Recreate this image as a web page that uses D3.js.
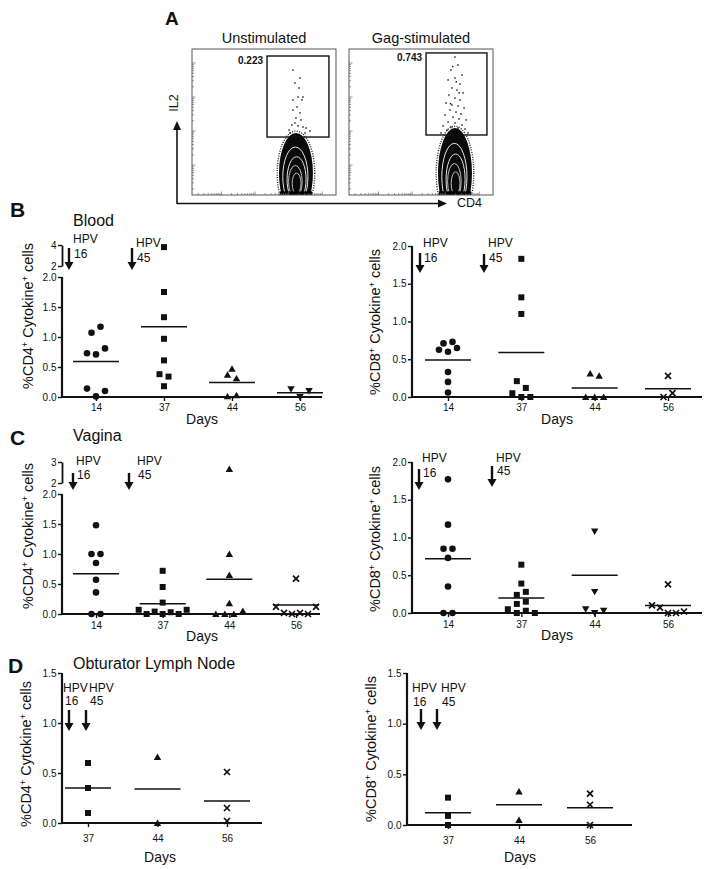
<!DOCTYPE html>
<html><head><meta charset="utf-8">
<script src="https://cdn.jsdelivr.net/npm/d3@7"></script>
<style>
body{margin:0;background:#fff}
svg{display:block}
</style>
</head><body>
<svg id="chart" width="715" height="869"></svg>
<script>
// ================= DATA =================
const days = ["14", "37", "44", "56"];
const daysLN = ["37", "44", "56"];
const yTicks2 = [0, 0.5, 1.0, 1.5, 2.0];
const yTicks15 = [0, 0.5, 1.0, 1.5];

// Panel B – Blood
const bloodCD4 = [
  [1.07, 1.17, 0.73, 0.71, 0.81, 0.14, 0.01, 0.10],
  [3.8, 1.75, 1.33, 0.97, 0.61, 0.38, 0.34, 0.18],
  [0.47, 0.37, 0.31, 0.01, 0.03],
  [0.13, 0.0, 0.10]
];
const bloodCD4Mean = [0.59, 1.17, 0.24, 0.07];
const bloodCD8 = [
  [0.71, 0.73, 0.625, 0.60, 0.65, 0.33, 0.20, 0.06],
  [1.83, 1.32, 1.10, 0.21, 0.12, 0.05, 0, 0],
  [0.31, 0.28, 0, 0, 0],
  [0.28, 0, 0.05]
];
const bloodCD8Mean = [0.49, 0.59, 0.12, 0.11];

// Panel C – Vagina
const vaginaCD4 = [
  [1.48, 1.0, 1.0, 0.85, 0.57, 0.36, 0, 0],
  [0.72, 0.45, 0.19, 0.07, 0.0, 0.04, 0.0, 0.03, 0.0, 0.07],
  [2.67, 1.0, 0.65, 0.18, 0, 0, 0, 0.05],
  [0.59, 0.12, 0.02, 0, 0.02, 0.0, 0.12]
];
const vaginaCD4Mean = [0.67, 0.17, 0.58, 0.15];
const vaginaCD8 = [
  [1.77, 1.17, 0.85, 0.85, 0.73, 0.35, 0, 0],
  [0.64, 0.39, 0.24, 0.28, 0.12, 0.15, 0.05, 0, 0.03, 0],
  [1.08, 0.28, 0.05, 0, 0.03],
  [0.38, 0.10, 0.07, 0, 0, 0.02]
];
const vaginaCD8Mean = [0.72, 0.20, 0.50, 0.10];

// Panel D – Obturator lymph node
const lnCD4 = [[0.60, 0.35, 0.10], [0.66, 0], [0.51, 0.15, 0.02]];
const lnCD4Mean = [0.35, 0.34, 0.22];
const lnCD8 = [[0.27, 0.09, 0], [0.33, 0.05], [0.31, 0.20, 0]];
const lnCD8Mean = [0.12, 0.20, 0.17];

// Panel A – flow cytometry (arbitrary 0-100 units, CD4 x IL2)
const flowTitles = ["Unstimulated", "Gag-stimulated"];
const flowPercents = ["0.223", "0.743"];
const flowGates = [[52.1, 95.1, 39.7, 95.2], [53.5, 95.8, 41.1, 97.3]]; // x1,x2,y1,y2
const flowBlobs = [[72.2, 42.5], [73.6, 45.9]]; // centre CD4, top IL2
const unstimDots = [
  [70.1, 85.6], [75.0, 80.1], [71.5, 76.7], [73.6, 67.1], [77.1, 67.1], [70.1, 65.1],
  [76.4, 65.1], [72.9, 60.3], [70.1, 58.2], [75.0, 56.2], [71.5, 49.3], [73.6, 47.3],
  [77.1, 46.6], [69.4, 47.9], [79.2, 45.9], [67.4, 44.5], [81.9, 43.8], [72.2, 52.7],
  [75.7, 51.4], [68.1, 42.5], [78.5, 42.5], [74.3, 73.3]
];
const gagDots = [
  [73.6, 94.5], [75.7, 89.0], [70.8, 85.6], [78.5, 82.2], [73.6, 80.1], [68.8, 78.8],
  [77.1, 76.0], [71.5, 73.3], [75.0, 71.9], [79.2, 69.9], [69.4, 68.5], [73.6, 66.4],
  [77.1, 65.1], [67.4, 63.0], [71.5, 61.6], [75.7, 61.0], [79.9, 59.6], [70.1, 58.2],
  [74.3, 56.8], [77.8, 55.5], [66.7, 54.8], [72.2, 53.4], [76.4, 52.1], [81.3, 51.4],
  [68.8, 50.0], [73.6, 49.3], [78.5, 47.9], [65.3, 47.3], [70.8, 46.6], [75.7, 45.9],
  [80.6, 45.2], [68.1, 44.5], [72.9, 43.8], [77.1, 43.2], [63.9, 42.5], [69.4, 41.8],
  [75.0, 41.8], [82.6, 42.5], [74.5, 77.5], [72.0, 88.0], [76.5, 70.0], [70.5, 62.5]
];
const flowDecades = [20.5, 43.8, 67.1, 90.4];

// ================= DRAWING =================
const FONT = 'Arial, "Liberation Sans", Helvetica, sans-serif';
const svg = d3.select("#chart").attr("font-family", FONT);
const INK = "#111";

// ---------- Panel A ----------
svg.append("text").attr("x", 165).attr("y", 25).attr("font-size", 19).attr("font-weight", "bold").attr("fill", INK).text("A");

const defs = svg.append("defs");
const flowSets = [unstimDots, gagDots];
[192, 349].forEach((x0, i) => {
  const fx = d3.scaleLinear().domain([0, 100]).range([x0, x0 + 144]);
  const fy = d3.scaleLinear().domain([0, 100]).range([195, 49]);
  const g = svg.append("g");
  defs.append("clipPath").attr("id", "clipf" + i)
    .append("rect").attr("x", fx(0)).attr("y", fy(100)).attr("width", fx(100) - fx(0)).attr("height", fy(0) - fy(100));

  // title
  g.append("text").attr("x", (fx(0) + fx(100)) / 2).attr("y", 43).attr("text-anchor", "middle")
    .attr("font-size", 14.5).attr("fill", INK).text(flowTitles[i]);

  // contour blob
  const [bcx, btop] = flowBlobs[i];
  const cy0 = fy(15), cx0 = fx(bcx);
  const RX = fx(11.8) - fx(0), RY = cy0 - fy(btop);
  const bg = g.append("g").attr("clip-path", `url(#clipf${i})`);
  bg.append("ellipse").attr("cx", cx0).attr("cy", cy0).attr("rx", RX + 1.8).attr("ry", RY + 1.8)
    .attr("fill", "none").attr("stroke", "#222").attr("stroke-width", 1.4).attr("stroke-dasharray", "1,1.4");
  bg.append("ellipse").attr("cx", cx0).attr("cy", cy0).attr("rx", RX).attr("ry", RY).attr("fill", "#0a0a0a");
  [0.74, 0.56, 0.4, 0.26].forEach((s, k) => {
    bg.append("ellipse").attr("cx", cx0 + (k % 2 ? 1 : -1) * 0.6).attr("cy", cy0 + (1 - s) * 14)
      .attr("rx", RX * s).attr("ry", RY * s)
      .attr("fill", "none").attr("stroke", k < 2 ? "#e6e6e6" : "#bdbdbd").attr("stroke-width", 1);
  });
  bg.append("rect").attr("x", cx0 - RX * 0.95).attr("y", fy(2.5)).attr("width", RX * 1.9).attr("height", fy(0) - fy(2.5)).attr("fill", "#000");

  // sparse events
  g.append("g").selectAll("rect").data(flowSets[i]).join("rect")
    .attr("x", d => fx(d[0]) - 0.7).attr("y", d => fy(d[1]) - 0.7).attr("width", 1.4).attr("height", 1.4).attr("fill", "#000");

  // frame
  g.append("rect").attr("x", fx(0)).attr("y", fy(100)).attr("width", fx(100) - fx(0)).attr("height", fy(0) - fy(100))
    .attr("fill", "none").attr("stroke", "#555").attr("stroke-width", 1);

  // log ticks inside frame
  const minor = [];
  flowDecades.forEach(d => { [2,3,4,5,6,7,8,9].forEach(m => { const v = d - 23.3 + Math.log10(m) * 23.3; if (v > 0) minor.push(v); }); });
  g.selectAll(".ty").data(flowDecades.concat(minor)).join("line")
    .attr("x1", fx(0)).attr("x2", (d) => fx(0) + (flowDecades.includes(d) ? 3.5 : 2))
    .attr("y1", d => fy(d)).attr("y2", d => fy(d)).attr("stroke", "#666").attr("stroke-width", 0.7);
  g.selectAll(".tx").data(flowDecades.concat(minor)).join("line")
    .attr("y1", fy(0)).attr("y2", (d) => fy(0) - (flowDecades.includes(d) ? 3.5 : 2))
    .attr("x1", d => fx(d)).attr("x2", d => fx(d)).attr("stroke", "#666").attr("stroke-width", 0.7);

  // gate
  const gt = flowGates[i];
  g.append("rect").attr("x", fx(gt[0])).attr("y", fy(gt[3])).attr("width", fx(gt[1]) - fx(gt[0])).attr("height", fy(gt[2]) - fy(gt[3]))
    .attr("fill", "none").attr("stroke", "#111").attr("stroke-width", 1.4);
  g.append("text").attr("x", fx(gt[0]) - 4).attr("y", fy(gt[3]) + 8).attr("text-anchor", "end")
    .attr("font-size", 10).attr("font-weight", "bold").attr("fill", INK).text(flowPercents[i]);
});
// axis arrows for panel A
{
  const g = svg.append("g");
  g.append("line").attr("x1", 177).attr("y1", 203.5).attr("x2", 440).attr("y2", 203.5).attr("stroke", INK).attr("stroke-width", 1.6);
  g.append("path").attr("d", "M447,203.5 L438,199.5 L438,207.5 Z").attr("fill", INK);
  g.append("line").attr("x1", 177).attr("y1", 204).attr("x2", 177).attr("y2", 129).attr("stroke", INK).attr("stroke-width", 1.6);
  g.append("path").attr("d", "M177,121 L173,130 L181,130 Z").attr("fill", INK);
  g.append("text").attr("transform", "translate(178,103) rotate(-90)").attr("text-anchor", "middle")
    .attr("font-size", 12.5).attr("fill", INK).text("IL2");
  g.append("text").attr("x", 457).attr("y", 207).attr("font-size", 12.5).attr("fill", INK).text("CD4");
}

// ---------- Scatter panels ----------
const symCircle = d3.symbol().type(d3.symbolCircle).size(34)();
const symSquare = d3.symbol().type(d3.symbolSquare).size(36)();
const symTri = d3.symbol().type(d3.symbolTriangle).size(24)();
const symCross = "M-3,-3L3,3M-3,3L3,-3";

function drawMarker(g, shape, x, y) {
  if (shape === "cross") {
    g.append("path").attr("d", symCross).attr("transform", `translate(${x},${y})`)
      .attr("stroke", INK).attr("stroke-width", 1.7).attr("fill", "none");
  } else {
    const d = shape === "circle" ? symCircle : shape === "square" ? symSquare : symTri;
    const rot = shape === "triDown" ? " rotate(180)" : "";
    const dy = shape === "triUp" ? 0.8 : shape === "triDown" ? -0.8 : 0;
    g.append("path").attr("d", d).attr("transform", `translate(${x},${y + dy})${rot}`).attr("fill", INK);
  }
}

function yLabel(g, x, y, cell) {
  const t = g.append("text").attr("transform", `translate(${x},${y}) rotate(-90)`).attr("text-anchor", "middle")
    .attr("font-size", 14.5).attr("fill", INK);
  t.append("tspan").text("%" + cell);
  t.append("tspan").attr("baseline-shift", "super").attr("font-size", 9).text("+");
  t.append("tspan").text(" Cytokine");
  t.append("tspan").attr("baseline-shift", "super").attr("font-size", 9).text("+");
  t.append("tspan").text(" cells");
}

function drawPanel(p) {
  const g = svg.append("g");
  const y = d3.scaleLinear().domain([0, p.ymax]).range([p.y0, p.ytop]);
  const yUp = p.upper ? d3.scaleLinear().domain(p.upper.domain).range(p.upper.range) : null;
  const yOf = v => (yUp && v > p.ymax) ? yUp(v) : y(v);
  const x = d3.scalePoint().domain(p.cats).range(p.xr);

  // y axis
  const ya = g.append("g").attr("transform", `translate(${p.ax},0)`)
    .call(d3.axisLeft(y).tickValues(p.yticks).tickFormat(d3.format(".1f")).tickSize(4).tickSizeOuter(0).tickPadding(1.5));
  ya.select(".domain").attr("stroke", INK).attr("stroke-width", 2.2).attr("d", `M0,${p.y0 + 1}V${p.ytop}`);
  ya.selectAll(".tick line").attr("stroke", INK).attr("stroke-width", 1.4);
  ya.selectAll(".tick text").attr("font-family", FONT).attr("font-size", 10).attr("fill", INK);

  if (yUp) {
    const ua = g.append("g").attr("transform", `translate(${p.ax},0)`)
      .call(d3.axisLeft(yUp).tickValues(p.upper.ticks).tickFormat(d3.format("d")).tickSize(4).tickSizeOuter(0).tickPadding(1.5));
    ua.select(".domain").attr("stroke", INK).attr("stroke-width", 1.8);
    ua.selectAll(".tick line").attr("stroke", INK).attr("stroke-width", 1.4);
    ua.selectAll(".tick text").attr("font-family", FONT).attr("font-size", 10).attr("fill", INK);
  }

  // x axis
  const xa = g.append("g").attr("transform", `translate(0,${p.y0})`)
    .call(d3.axisBottom(x).tickSize(4).tickSizeOuter(0).tickPadding(p.tickPad));
  xa.select(".domain").attr("stroke", INK).attr("stroke-width", 2.2).attr("d", `M${p.ax - 1},0H${p.xEnd}`);
  xa.selectAll(".tick line").attr("stroke", INK).attr("stroke-width", 1.4);
  xa.selectAll(".tick text").attr("font-family", FONT).attr("font-size", 10).attr("fill", INK);

  g.append("text").attr("x", p.daysX).attr("y", p.y0 + p.daysDy).attr("text-anchor", "middle")
    .attr("font-size", 14).attr("fill", INK).text("Days");

  yLabel(g, p.ylabX, p.ylabY, p.cell);

  // points with Prism-style row offsets (bottom-up grouping)
  p.data.forEach((vals, ci) => {
    const cx = x(p.cats[ci]);
    const items = vals.map((v, i) => ({ v, i, py: yOf(v) }));
    const sorted = items.slice().sort((a, b) => b.py - a.py || a.i - b.i);
    const rows = [];
    sorted.forEach(it => {
      const r = rows[rows.length - 1];
      if (r && r.start - it.py < 8) r.items.push(it); else rows.push({ start: it.py, items: [it] });
    });
    rows.forEach(r => {
      r.items.sort((a, b) => a.i - b.i);
      const n = r.items.length;
      const sp = n > 4 ? 8 : 9;
      r.items.forEach((it, k) => drawMarker(g, p.shapes[ci], cx + (k - (n - 1) / 2) * sp, it.py));
    });
    // mean line
    g.append("line").attr("x1", cx - 23).attr("x2", cx + 23)
      .attr("y1", y(p.means[ci])).attr("y2", y(p.means[ci]))
      .attr("stroke", INK).attr("stroke-width", 1.5);
  });

  // HPV arrows
  p.arrows.forEach(a => {
    g.append("line").attr("x1", a.x).attr("x2", a.x).attr("y1", a.top).attr("y2", a.tip - 6)
      .attr("stroke", INK).attr("stroke-width", 2.4);
    g.append("path").attr("d", `M${a.x - 4.5},${a.tip - 8}L${a.x + 4.5},${a.tip - 8}L${a.x},${a.tip}Z`).attr("fill", INK);
    g.append("text").attr("x", a.hx).attr("y", a.hy).attr("font-size", 12).attr("fill", INK).text("HPV");
    g.append("text").attr("x", a.nx).attr("y", a.ny).attr("font-size", 12).attr("fill", INK).text(a.n);
  });
}

const panels = [
  { cell: "CD4", data: bloodCD4, means: bloodCD4Mean, cats: days, shapes: ["circle", "square", "triUp", "triDown"],
    ax: 62, y0: 397, ytop: 277, ymax: 2, yticks: yTicks2, upper: { domain: [2, 4], range: [266, 245], ticks: [2, 4] },
    xr: [96, 300], xEnd: 322, tickPad: 3, daysX: 202, daysDy: 27, ylabX: 33, ylabY: 316,
    arrows: [{ x: 69, top: 248, tip: 270, hx: 73, hy: 243, nx: 74, ny: 258, n: "16" },
             { x: 132, top: 248, tip: 270, hx: 136, hy: 247, nx: 137, ny: 262, n: "45" }] },
  { cell: "CD8", data: bloodCD8, means: bloodCD8Mean, cats: days, shapes: ["circle", "square", "triUp", "cross"],
    ax: 412, y0: 397, ytop: 246, ymax: 2, yticks: yTicks2,
    xr: [448, 668], xEnd: 702, tickPad: 3, daysX: 557, daysDy: 27, ylabX: 380, ylabY: 322,
    arrows: [{ x: 420, top: 253, tip: 273, hx: 423, hy: 247, nx: 424, ny: 262, n: "16" },
             { x: 484, top: 254, tip: 273, hx: 488, hy: 247, nx: 489, ny: 262, n: "45" }] },
  { cell: "CD4", data: vaginaCD4, means: vaginaCD4Mean, cats: days, shapes: ["circle", "square", "triUp", "cross"],
    ax: 62, y0: 614, ytop: 494, ymax: 2, yticks: yTicks2, upper: { domain: [2, 3], range: [483, 462], ticks: [2, 3] },
    xr: [96, 296], xEnd: 320, tickPad: 3.5, daysX: 202, daysDy: 27, ylabX: 33, ylabY: 536,
    arrows: [{ x: 73, top: 473, tip: 490, hx: 76, hy: 465, nx: 77, ny: 479, n: "16" },
             { x: 129, top: 473, tip: 490, hx: 137, hy: 465, nx: 138, ny: 479, n: "45" }] },
  { cell: "CD8", data: vaginaCD8, means: vaginaCD8Mean, cats: days, shapes: ["circle", "square", "triDown", "cross"],
    ax: 412, y0: 613, ytop: 462, ymax: 2, yticks: yTicks2,
    xr: [448, 668], xEnd: 702, tickPad: 3.5, daysX: 557, daysDy: 27, ylabX: 380, ylabY: 539,
    arrows: [{ x: 419, top: 469, tip: 490, hx: 422, hy: 462, nx: 423, ny: 477, n: "16" },
             { x: 492, top: 466, tip: 487, hx: 496, hy: 462, nx: 497, ny: 475, n: "45" }] },
  { cell: "CD4", data: lnCD4, means: lnCD4Mean, cats: daysLN, shapes: ["square", "triUp", "cross"],
    ax: 62, y0: 823, ytop: 673, ymax: 1.5, yticks: yTicks15,
    xr: [88, 227], xEnd: 262, tickPad: 8, daysX: 160, daysDy: 39, ylabX: 31, ylabY: 754,
    arrows: [{ x: 69, top: 710, tip: 731, hx: 63, hy: 692, nx: 65, ny: 705, n: "16" },
             { x: 86, top: 710, tip: 731, hx: 89, hy: 692, nx: 90, ny: 705, n: "45" }] },
  { cell: "CD8", data: lnCD8, means: lnCD8Mean, cats: daysLN, shapes: ["square", "triUp", "cross"],
    ax: 407, y0: 825, ytop: 673, ymax: 1.5, yticks: yTicks15,
    xr: [448, 590], xEnd: 632, tickPad: 8, daysX: 520, daysDy: 37, ylabX: 376, ylabY: 749,
    arrows: [{ x: 421, top: 709, tip: 730, hx: 412, hy: 692, nx: 413, ny: 706, n: "16" },
             { x: 437, top: 709, tip: 730, hx: 441, hy: 692, nx: 442, ny: 706, n: "45" }] }
];
panels.forEach(drawPanel);

// panel letters and titles
const letters = [["B", 10, 217], ["C", 10, 445], ["D", 8, 673]];
letters.forEach(([t, x, y]) => svg.append("text").attr("x", x).attr("y", y).attr("font-size", 21)
  .attr("font-weight", "bold").attr("fill", INK).text(t));
const titles = [["Blood", 73, 226], ["Vagina", 73, 441], ["Obturator Lymph Node", 73, 669]];
titles.forEach(([t, x, y]) => svg.append("text").attr("x", x).attr("y", y).attr("font-size", 16)
  .attr("fill", INK).text(t));
</script>
</body></html>
